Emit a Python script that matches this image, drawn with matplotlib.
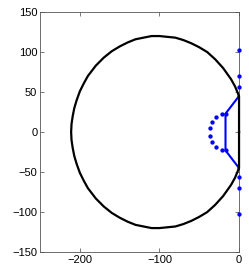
import matplotlib
matplotlib.use("Agg")
import matplotlib.pyplot as plt

# upper half of the boundary curve (mirrored for the lower half)
bound_x = [0, 0, -5, -10, -20, -30, -40, -50, -60, -70, -80, -90, -100, -110,
           -120, -130, -140, -150, -160, -170, -180, -190, -195, -200, -204,
           -207, -209, -210.5, -211]
bound_y = [0, 45, 57, 66, 80, 91, 100, 106, 111, 115, 118, 119, 120, 120,
           118, 116, 112, 107, 101, 93, 83, 70, 61, 51, 40, 30, 20, 10, 0]

# blue eigenvalue branch (polyline of dense points)
branch_x = [0, -17, -17, 0]
branch_y = [45, 23, -23, -45]

# isolated blue points on the arc
arc_x = [-22, -29, -34, -36, -36, -34, -29, -22]
arc_y = [23, 19, 13, 4.5, -4.5, -13, -19, -23]

# blue points on the imaginary axis
axis_x = [0, 0, 0, 0, 0, 0]
axis_y = [103, 70, 56, -56, -70, -103]

plt.rcParams['font.family'] = ['Liberation Sans', 'DejaVu Sans']

fig = plt.figure(figsize=(2.49, 2.74), dpi=100)
ax = fig.add_axes([0.161, 0.080, 0.799, 0.876])

full_x = bound_x + bound_x[::-1]
full_y = bound_y + [-v for v in bound_y[::-1]]
ax.plot(full_x, full_y, color='black', lw=1.6, clip_on=False, zorder=3)

ax.plot(branch_x, branch_y, color='blue', lw=1.5, zorder=2)
ax.plot(branch_x, branch_y, 'o', color='blue', ms=2.0, zorder=2)
ax.plot(arc_x, arc_y, 'o', color='blue', ms=2.1, ls='none', zorder=2)
ax.plot(axis_x, axis_y, 'o', color='blue', ms=2.1, ls='none', clip_on=False, zorder=4)

ax.set_xlim(-250, 0)
ax.set_ylim(-150, 150)
ax.set_xticks([-200, -100, 0])
ax.set_yticks([-150, -100, -50, 0, 50, 100, 150])
ax.tick_params(direction='in', top=True, right=True, labelsize=8,
               length=3, width=0.5, color='#444444', pad=2)
for s in ax.spines.values():
    s.set_linewidth(0.6)
    s.set_color('#555555')

fig.savefig('out.png', dpi=100)
